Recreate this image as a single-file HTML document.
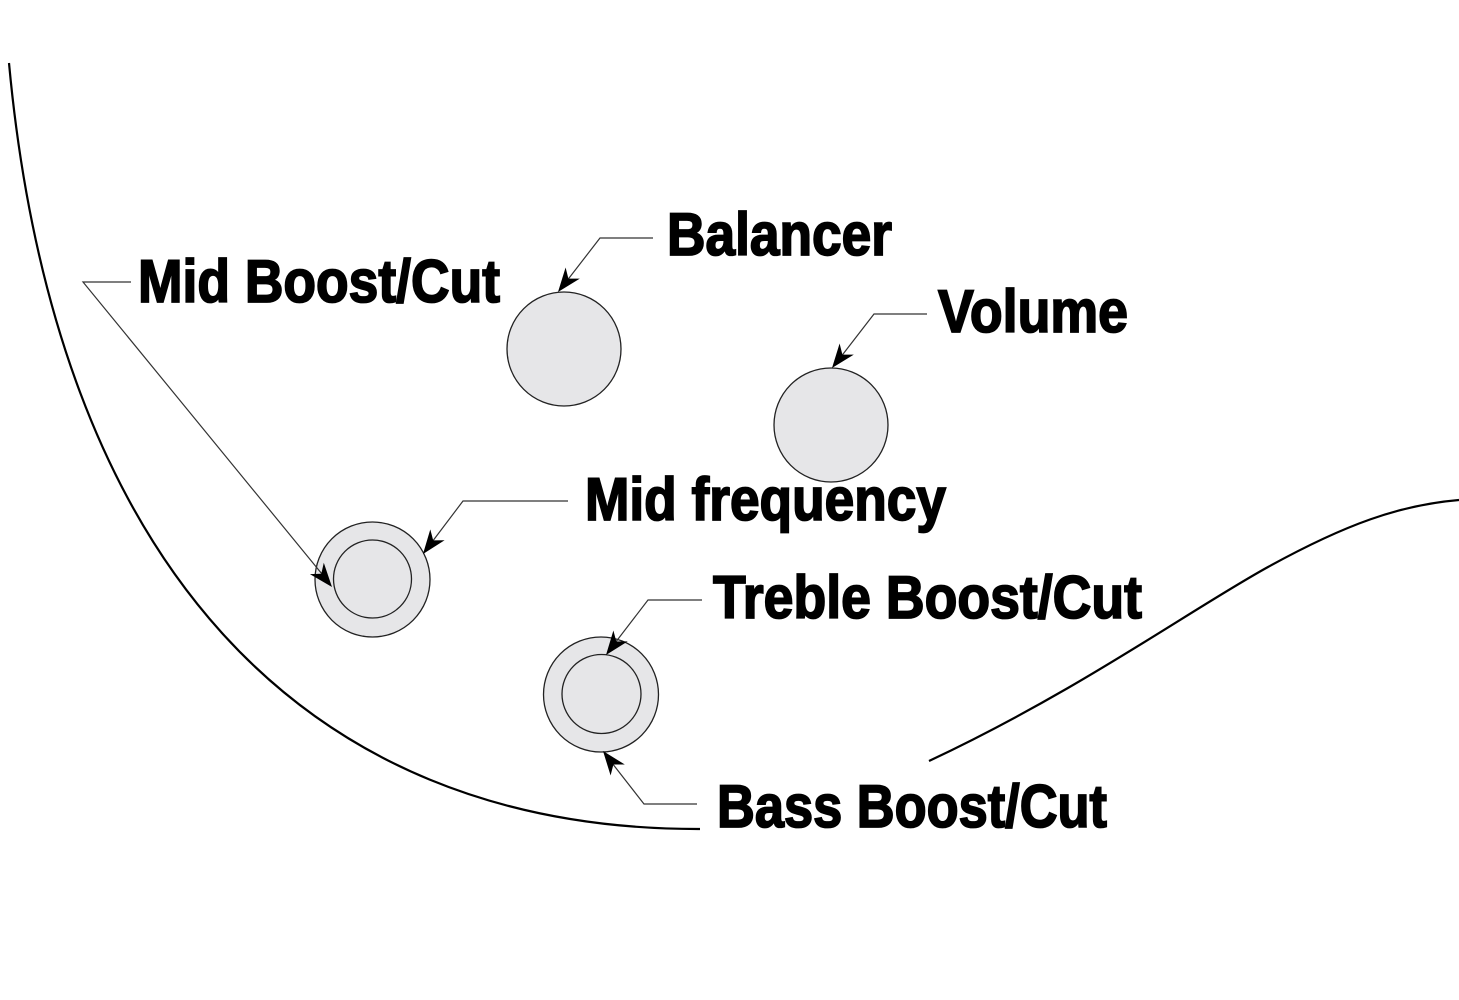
<!DOCTYPE html>
<html>
<head>
<meta charset="utf-8">
<style>
  html, body { margin: 0; padding: 0; background: #ffffff; }
  body { width: 1459px; height: 1000px; overflow: hidden; }
  svg { display: block; }
  .lbl { font-family: "Liberation Sans Narrow", "Liberation Sans", sans-serif; font-weight: 700; font-size: 60px; fill: #000; stroke: #000; stroke-width: 1.8px; }
  .lead { fill: none; stroke: #333; stroke-width: 1.2; }
  .knob { fill: #e6e6e8; stroke: #222; stroke-width: 1.3; }
  .body { fill: none; stroke: #000; stroke-width: 2.2; }
  .ah { fill: #000; stroke: none; }
</style>
</head>
<body>
<svg width="1459" height="1000" viewBox="0 0 1459 1000" xmlns="http://www.w3.org/2000/svg">
  <!-- body outline -->
  <path class="body" d="M9,63 C55,560 300,830 700,829"/>
  <path class="body" d="M929,761 C1080,690 1190,610 1268,567 S1400,505 1459,500"/>

  <!-- knobs -->
  <circle class="knob" cx="564" cy="349" r="57"/>
  <circle class="knob" cx="831" cy="425" r="57"/>
  <circle class="knob" cx="372.5" cy="579.5" r="57.5"/>
  <circle class="knob" cx="372.5" cy="579" r="39"/>
  <circle class="knob" cx="601" cy="694.5" r="57.5"/>
  <circle class="knob" cx="601.5" cy="694" r="39.5"/>

  <!-- leaders -->
  <path class="lead" d="M653,238 H600 L566,282"/>
  <path class="lead" d="M927,314 H874 L840,358"/>
  <path class="lead" d="M131,282 H83 L322,574"/>
  <path class="lead" d="M568,501 H463 L432,542"/>
  <path class="lead" d="M702,600 H648 L615,643"/>
  <path class="lead" d="M697,804 H644 L612,763"/>

  <!-- arrowheads -->
  <polygon class="ah" points="558,292 579.8,278.6 568.4,278.6 565.6,267.5"/>
  <polygon class="ah" points="832,368 853.8,354.6 842.4,354.6 839.6,343.5"/>
  <polygon class="ah" points="332,587 323.8,562.7 321.3,573.8 309.9,574.1"/>
  <polygon class="ah" points="423,554 444.6,540.3 433.2,540.4 430.3,529.4"/>
  <polygon class="ah" points="606,655 627.7,641.4 616.3,641.5 613.4,630.5"/>
  <polygon class="ah" points="603,751 624.8,764.5 613.4,764.5 610.6,775.5"/>

  <!-- labels -->
  <text class="lbl" x="138" y="302" textLength="362" lengthAdjust="spacingAndGlyphs">Mid Boost/Cut</text>
  <text class="lbl" x="667" y="255" textLength="225" lengthAdjust="spacingAndGlyphs">Balancer</text>
  <text class="lbl" x="938" y="332" textLength="190" lengthAdjust="spacingAndGlyphs">Volume</text>
  <text class="lbl" x="585" y="520" textLength="361" lengthAdjust="spacingAndGlyphs">Mid frequency</text>
  <text class="lbl" x="713" y="618" textLength="429" lengthAdjust="spacingAndGlyphs">Treble Boost/Cut</text>
  <text class="lbl" x="717" y="827" textLength="390" lengthAdjust="spacingAndGlyphs">Bass Boost/Cut</text>
</svg>
</body>
</html>
